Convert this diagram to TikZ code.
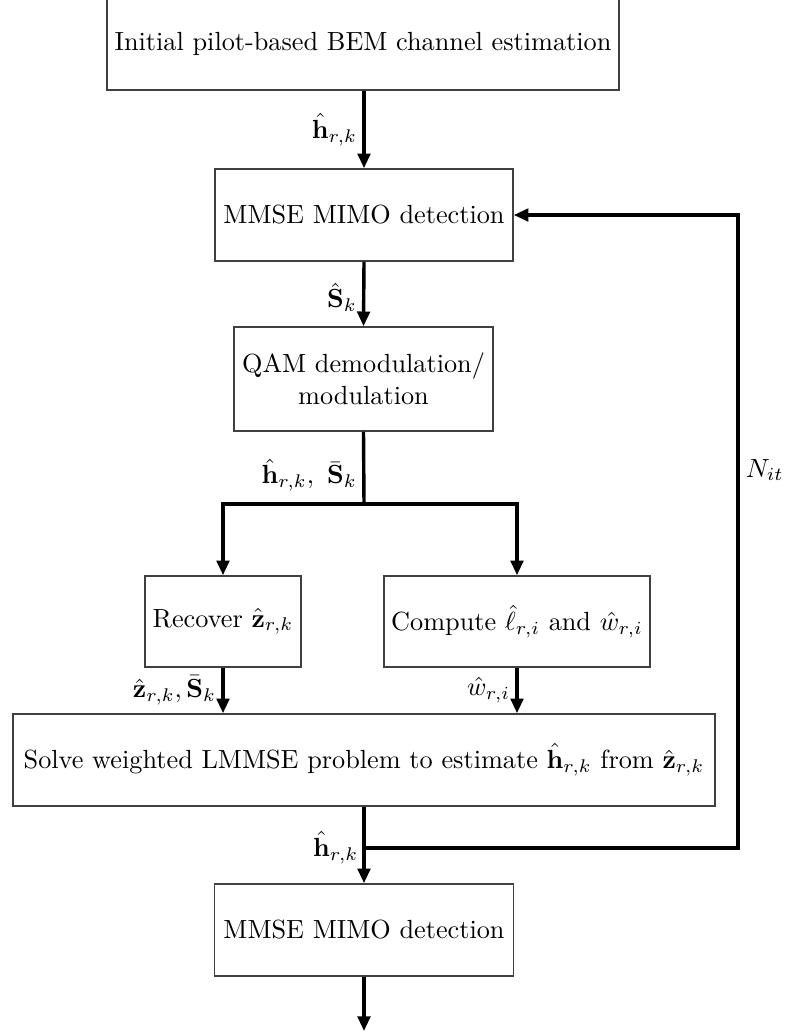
\documentclass[tikz,border=0pt]{standalone}
\usetikzlibrary{arrows.meta}
\newlength\pxu
\setlength\pxu{0.381pt}
\begin{document}
\begin{tikzpicture}[x=\pxu,y=-\pxu,
  block/.style={draw=black!75,line width=0.6pt,inner sep=0pt,align=center},
  flow/.style={line width=1.3pt},
  arr/.style={flow,-{Triangle[length=5.6pt,width=4.8pt]}},
  lbl/.style={inner sep=2pt}]
\useasboundingbox (0,0) rectangle (792,1034);

% processing blocks
\node[block,minimum width=512\pxu,minimum height=92\pxu] (init) at (363,44) {Initial pilot-based BEM channel estimation};
\node[block,minimum width=298\pxu,minimum height=92\pxu] (det1) at (364,215) {MMSE MIMO detection};
\node[block,minimum width=259\pxu,minimum height=104\pxu] (qam) at (363.5,379) {QAM demodulation/\\modulation};
\node[block,minimum width=156\pxu,minimum height=91\pxu] (rec) at (223,621.5) {Recover $\hat{\mathbf{z}}_{r,k}$};
\node[block,minimum width=266\pxu,minimum height=91\pxu] (comp) at (517,621.5) {Compute $\hat{\ell}_{r,i}$ and $\hat{w}_{r,i}$};
\node[block,minimum width=702\pxu,minimum height=92\pxu] (solve) at (364,760) {Solve weighted LMMSE problem to estimate $\hat{\mathbf{h}}_{r,k}$ from $\hat{\mathbf{z}}_{r,k}$};
\node[block,minimum width=299\pxu,minimum height=92\pxu] (det2) at (364,930) {MMSE MIMO detection};

% branch and loop points
\coordinate (split) at (364,504);
\coordinate (join) at (364,848);
\coordinate (loop) at (738,848);
\coordinate (out) at (364,1031);

% connectors
\draw[arr] (init.south -| det1.north) -- node[lbl,left]{$\hat{\mathbf{h}}_{r,k}$} (det1.north);
\draw[arr] (det1.south) -- node[lbl,left,pos=0.55]{$\hat{\mathbf{S}}_k$} (qam.north);
\draw[flow] (qam.south) -- node[lbl,left,pos=0.6]{$\hat{\mathbf{h}}_{r,k},\ \bar{\mathbf{S}}_k$} (split);
\draw[arr] (split) -| (rec.north);
\draw[arr] (split) -| (comp.north);
\draw[arr] (rec.south) -- node[lbl,left]{$\hat{\mathbf{z}}_{r,k},\bar{\mathbf{S}}_k$} (rec.south |- solve.north);
\draw[arr] (comp.south) -- node[lbl,left]{$\hat{w}_{r,i}$} (comp.south |- solve.north);
\draw[flow] (solve.south) -- (join);
\draw[arr] (join) -- (det2.north);
\node[lbl,left] at (join) {$\hat{\mathbf{h}}_{r,k}$};
\draw[arr] (join) -- (loop) |- (det1.east);
\node[lbl,anchor=west] at (740,470) {$N_{it}$};
\draw[arr] (det2.south) -- (out);
\end{tikzpicture}
\end{document}
